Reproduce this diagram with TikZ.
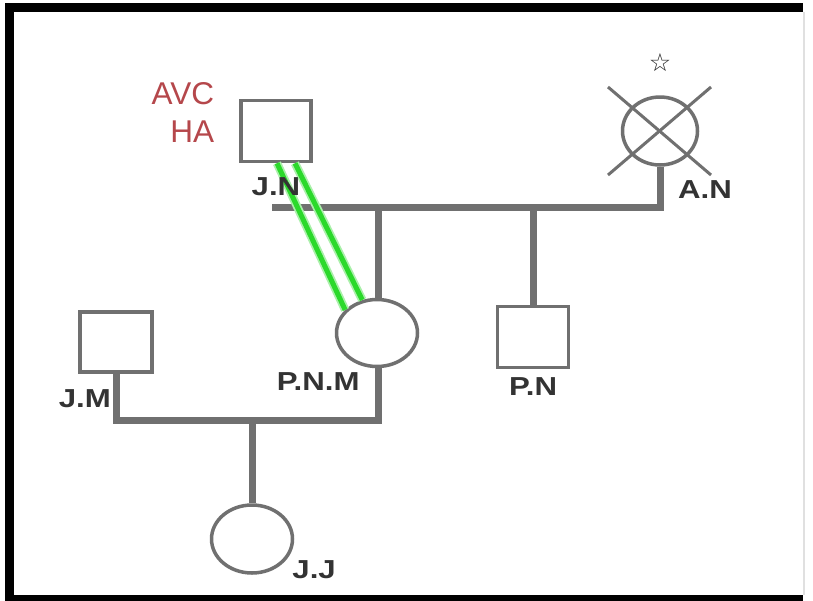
\documentclass[tikz,border=0pt]{standalone}
\usepackage{fontspec}
\setmainfont{Liberation Sans}
\newfontfamily\tagfont[FakeStretch=1.2]{Liberation Sans}
\newfontfamily\symfont{DejaVu Sans}
\definecolor{PedGray}{HTML}{707070}
\definecolor{NoteRed}{HTML}{B5474B}
\definecolor{BondGreen}{HTML}{2BD92B}
\usetikzlibrary{positioning,shapes.geometric}

\begin{document}
\begin{tikzpicture}[x=1pt,y=-1pt,
    male/.style={draw=PedGray,line width=3.5pt,rectangle,minimum width=70pt,minimum height=61pt},
    female/.style={draw=PedGray,line width=3.5pt,ellipse,minimum width=81pt,minimum height=67pt},
    tag/.style={inner sep=0pt,text=black!80,font=\tagfont\bfseries\fontsize{26}{30}\selectfont},
    note/.style={inner sep=0pt,text=NoteRed,align=right,font=\fontsize{31.5}{38}\selectfont},
    link/.style={draw=PedGray,line width=7pt},
    cross/.style={draw=PedGray,line width=3pt},
    bond/.style={draw=BondGreen,line width=5pt,preaction={draw=BondGreen!40,line width=8.5pt}}]
      \useasboundingbox (0,0) rectangle (813,600);
      \fill[white] (0,0) rectangle (813,600);
      \draw[line width=9pt] (803,7.5) -- (9,7.5) -- (9,599) -- (803,599);
      \draw[black!12,line width=1.5pt] (804,12) -- (804,595);

      \node[male] (jn) at (276,131) {};
      \node[male,minimum width=72pt,minimum height=60pt] (jm) at (116,342) {};
      \node[male,minimum width=71pt] (pn) at (533,337) {};
      \node[female,minimum width=75pt,minimum height=68pt] (an) at (660,131) {};
      \node[female] (pnm) at (377,333) {};
      \node[female,minimum height=68pt] (jj) at (252,539) {};

      % first couple and their children
      \coordinate (jnfoot) at (272,207);
      \coordinate (m1) at (378,207);
      \coordinate (sib) at (533,207);
      \draw[link] (jnfoot) -- (m1) -| (an.south);
      \draw[link] (m1) -- (m1 |- pnm.north);
      \draw[link] (sib) -- (pn.north);

      % second couple
      \coordinate (m2) at (252,420);
      \draw[link] (jm.south) |- (m2) -| (m1 |- pnm.south);
      \draw[link] (m2) -- (jj.north);

      \draw[cross] ([shift={(-52,-44)}]an.center) -- ([shift={(51,44)}]an.center);
      \draw[cross] ([shift={(51,-44)}]an.center) -- ([shift={(-52,44)}]an.center);

      \draw[bond] ([xshift=1pt]jn.south) -- (pnm.144);
      \draw[bond] ([xshift=19pt]jn.south) -- (pnm.114);

      \node[note,anchor=east] (avc) at ([xshift=-25pt,yshift=19pt]jn.west) {AVC\\HA};
      \node[tag,below=14pt of jn] (jnl) {J.N};
      \node[tag,below=8pt of pn] (pnl) {P.N};
      \node[tag,anchor=north west] (anl) at ([xshift=18pt,yshift=-14pt]an.south) {A.N};
      \node[tag,anchor=north east] (pnml) at ([xshift=25pt,yshift=-39pt]pnm.west) {P.N.M};
      \node[tag,anchor=north east] (jml) at ([xshift=-5pt,yshift=-16pt]jm.south) {J.M};
      \node[tag,anchor=base west] (jjl) at ([xshift=-2pt,yshift=-39pt]jj.east) {J.J};
      \node[text=black!85,font=\symfont\fontsize{25}{25}\selectfont] (star) at ([yshift=33pt]an.north) {\char"2606};
    \end{tikzpicture}
\end{document}
